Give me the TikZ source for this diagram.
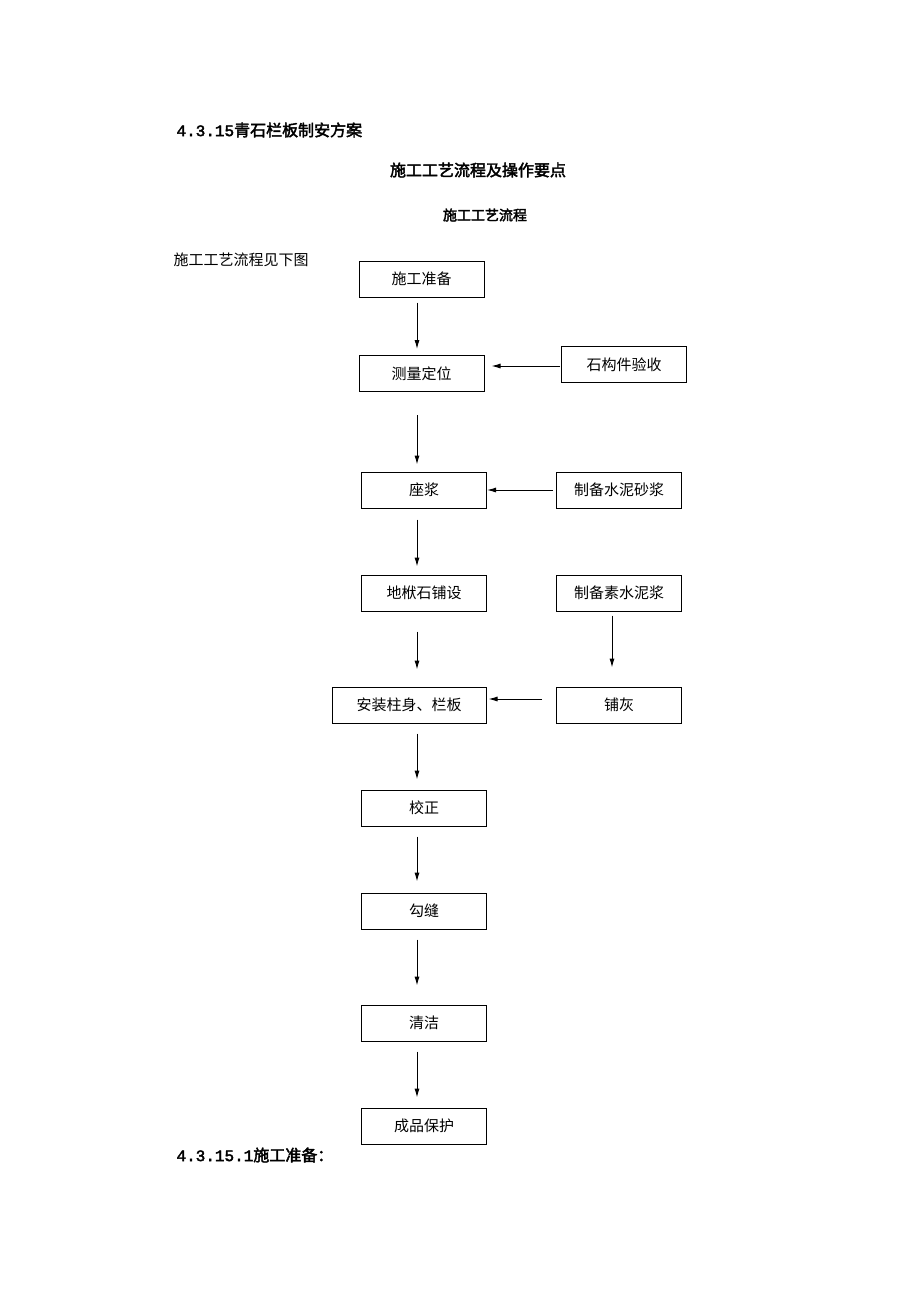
\documentclass[tikz,border=0pt]{standalone}
\usepackage{fontspec}
\setmainfont{Noto Sans CJK SC}[AutoFakeBold=2.5]
\newfontfamily\digits{Liberation Mono}[AutoFakeBold=2.5]
\usetikzlibrary{arrows.meta, positioning}

\begin{document}
\begin{tikzpicture}[x=1pt, y=-1pt, >={Latex[length=9pt,width=5pt]}, font=\fontsize{15}{18}\selectfont]
  \tikzset{
    box/.style={
      draw=black,
      line width=1pt,
      minimum width=125pt,
      minimum height=36pt,
      inner sep=0pt,
      text centered},
    flow/.style={
      ->,
      line width=1pt}}

  \useasboundingbox (0,0) rectangle (920,1302);

  % headings
  \node[anchor=west, font=\fontsize{16}{19}\selectfont\bfseries] (head) at (173,130) {{\digits 4.3.15}青石栏板制安方案};
  \node[font=\fontsize{16}{19}\selectfont\bfseries] (sub) at (478,170) {施工工艺流程及操作要点};
  \node[font=\fontsize{14}{17}\selectfont\bfseries] (subsub) at (485,215) {施工工艺流程};
  \node[anchor=west] (intro) at (170,260) {施工工艺流程见下图};
  \node[anchor=west, font=\fontsize{16}{19}\selectfont\bfseries] (tail) at (173,1155) {{\digits 4.3.15.1}施工准备：};

  % main column
  \node[box] (prep) at (421.5,279) {施工准备};
  \node[box] (survey) at (421.5,373.5) {测量定位};
  \node[box] (bed) at (424,490) {座浆};
  \node[box] (sill) at (424,593) {地栿石铺设};
  \node[box, minimum width=154pt] (mount) at (409,705) {安装柱身、栏板};
  \node[box] (align) at (424,808) {校正};
  \node[box] (joint) at (424,911) {勾缝};
  \node[box] (clean) at (424,1023) {清洁};
  \node[box] (guard) at (424,1126) {成品保护};

  % side column
  \node[box] (check) at (624,364.5) {石构件验收};
  \node[box] (mortar) at (619,490) {制备水泥砂浆};
  \node[box] (grout) at (619,593) {制备素水泥浆};
  \node[box] (ash) at (619,705) {铺灰};

  \draw[flow, shorten <=5pt, shorten >=6pt] (prep.south -| 417,0) -- (survey.north -| 417,0);
  \draw[flow, shorten <=23pt, shorten >=7pt] (survey.south -| 417,0) -- (bed.north -| 417,0);
  \draw[flow, shorten <=11pt, shorten >=8pt] (bed.south -| 417,0) -- (sill.north -| 417,0);
  \draw[flow, shorten <=20pt, shorten >=17pt] (sill.south -| 417,0) -- (mount.north -| 417,0);
  \draw[flow, shorten <=10pt, shorten >=10pt] (mount.south -| 417,0) -- (align.north -| 417,0);
  \draw[flow, shorten <=10pt, shorten >=11pt] (align.south -| 417,0) -- (joint.north -| 417,0);
  \draw[flow, shorten <=10pt, shorten >=19pt] (joint.south -| 417,0) -- (clean.north -| 417,0);
  \draw[flow, shorten <=10pt, shorten >=10pt] (clean.south -| 417,0) -- (guard.north -| 417,0);
  \draw[flow, shorten <=4pt, shorten >=19pt] (grout.south -| 612,0) -- (ash.north -| 612,0);

  \draw[flow, shorten <=1pt, shorten >=7pt] (check.west |- 0,366) -- (survey.east |- 0,366);
  \draw[flow, shorten <=3pt] (mortar.west) -- (bed.east);
  \draw[flow, shorten <=14pt, shorten >=2pt] (ash.west |- 0,699) -- (mount.east |- 0,699);
\end{tikzpicture}
\end{document}
